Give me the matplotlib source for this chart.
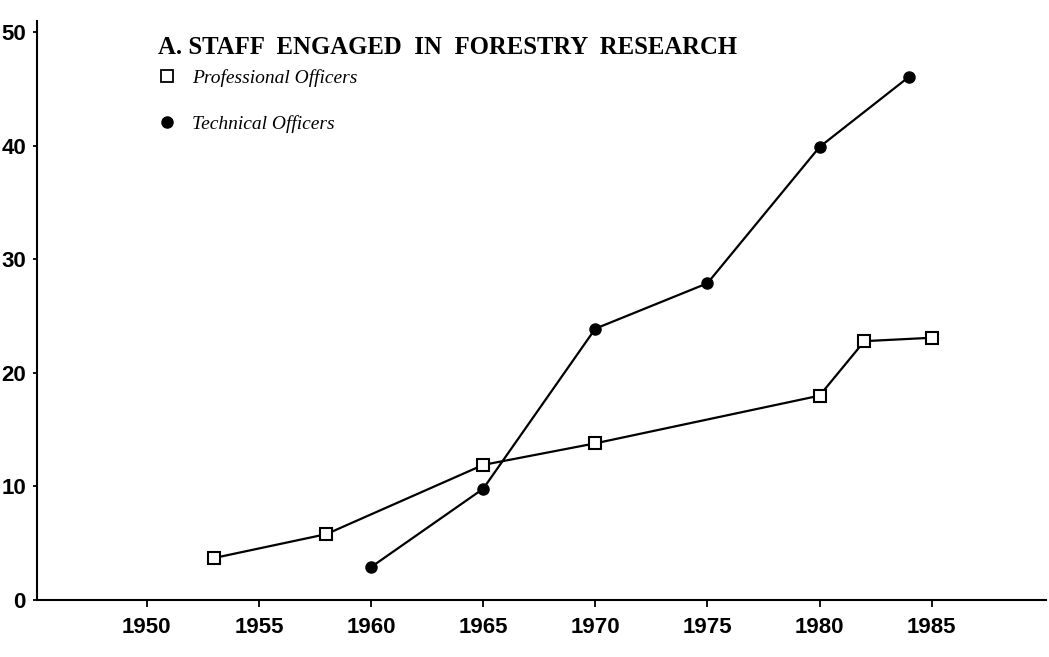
import matplotlib
matplotlib.use("Agg")
import matplotlib.pyplot as plt
from matplotlib.lines import Line2D

# Data
prof_years = [1953, 1958, 1965, 1970, 1980, 1982, 1985]
prof_vals = [3.7, 5.8, 11.9, 13.8, 18.0, 22.8, 23.1]
tech_years = [1960, 1965, 1970, 1975, 1980, 1984]
tech_vals = [2.9, 9.8, 23.9, 27.9, 39.9, 46.1]
x_ticks = [1950, 1955, 1960, 1965, 1970, 1975, 1980, 1985]
y_ticks = [0, 10, 20, 30, 40, 50]
title = "A. STAFF  ENGAGED  IN  FORESTRY  RESEARCH"
labels = ["Professional Officers", "Technical Officers"]

W, H = 1049, 657
fig = plt.figure(figsize=(W / 100, H / 100), dpi=100)
left_px, right_px = 37, 1046
bottom_px, top_px = 600, 21
ax = fig.add_axes([left_px / W, (H - bottom_px) / H,
                   (right_px - left_px) / W, (bottom_px - top_px) / H])

ax.plot(prof_years, prof_vals, color="black", lw=1.6, marker="s", ms=9,
        mfc="white", mec="black", mew=1.5, zorder=3)
ax.plot(tech_years, tech_vals, color="black", lw=1.6, marker="o", ms=8,
        mfc="black", mec="black", zorder=3)

ax.set_xlim(1945.1, 1990.1)
ax.set_ylim(0, 51)
ax.set_xticks(x_ticks)
ax.set_yticks(y_ticks)
for s in ["top", "right"]:
    ax.spines[s].set_visible(False)
for s in ["left", "bottom"]:
    ax.spines[s].set_linewidth(1.5)
ax.tick_params(axis="x", length=5, width=1.3, pad=7)
ax.tick_params(axis="y", length=3, width=1.3, pad=5)
for lab in ax.get_xticklabels():
    lab.set_fontfamily("Liberation Sans")
    lab.set_fontweight("bold")
    lab.set_fontsize(16)
for lab in ax.get_yticklabels():
    lab.set_fontfamily("Liberation Sans")
    lab.set_fontweight("bold")
    lab.set_fontsize(16)

fig.text(448 / W, 1 - 47 / H, title, ha="center", va="center",
         fontfamily="Liberation Serif", fontweight="bold", fontsize=17.8)

handles = [
    Line2D([], [], ls="none", marker="s", ms=9, mfc="white", mec="black", mew=1.3),
    Line2D([], [], ls="none", marker="o", ms=8, mfc="black", mec="black"),
]
fig.legend(handles, labels, loc="upper left",
           bbox_to_anchor=(157 / W, 1 - 69 / H), frameon=False,
           prop={"family": "Liberation Serif", "style": "italic", "size": 14},
           handlelength=1.0, handletextpad=0.8, labelspacing=1.45,
           borderaxespad=0, borderpad=0)

fig.savefig("out.png", dpi=100, facecolor="white")
